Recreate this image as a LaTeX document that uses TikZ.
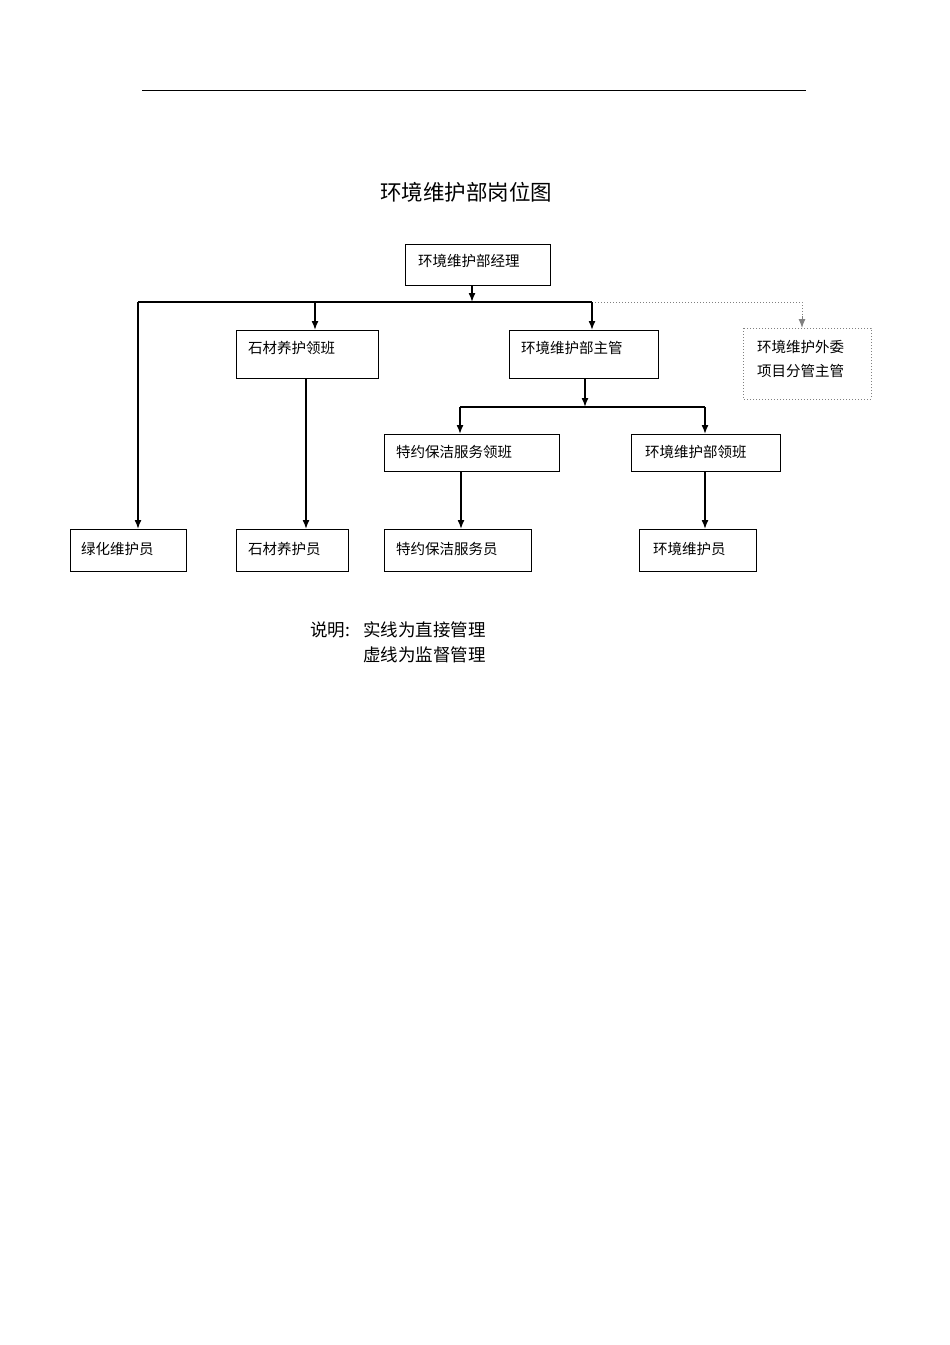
\documentclass[tikz,border=0pt]{standalone}
\usepackage{fontspec}
\setmainfont{Noto Sans CJK SC}
\usetikzlibrary{arrows.meta}
\begin{document}
\begin{tikzpicture}[x=1pt,y=-1pt,
  box/.style={draw,line width=1pt},
  lbl/.style={anchor=west,font=\fontsize{14.5}{17}\selectfont,inner sep=0},
  arr/.style={line width=1.5pt,-{Latex[length=9pt,width=7pt]}},
  ln/.style={line width=1.5pt}]
\useasboundingbox (0,0) rectangle (950,1345);
\draw[line width=0.8pt] (142,90) -- (806,90);
\node[font=\fontsize{21.5}{24}\selectfont] (title) at (466,192) {环境维护部岗位图};
% boxes
\draw[box] (405,244) rectangle (550,285); \node[lbl] (m) at (418,261) {环境维护部经理};
\draw[box] (236,330) rectangle (378,378); \node[lbl] (s1) at (248,348) {石材养护领班};
\draw[box] (509,330) rectangle (658,378); \node[lbl] (z) at (521,348) {环境维护部主管};
\draw[box,dotted,gray] (743,328) rectangle (871,399);
\node[lbl,align=left,font=\fontsize{14.5}{24}\selectfont] (w) at (757,359) {环境维护外委\\项目分管主管};
\draw[box] (384,434) rectangle (559,471); \node[lbl] (t1) at (396,452) {特约保洁服务领班};
\draw[box] (631,434) rectangle (780,471); \node[lbl] (h1) at (645,452) {环境维护部领班};
\draw[box] (70,529) rectangle (186,571); \node[lbl] (g) at (81,549) {绿化维护员};
\draw[box] (236,529) rectangle (348,571); \node[lbl] (s2) at (248,549) {石材养护员};
\draw[box] (384,529) rectangle (531,571); \node[lbl] (t2) at (396,549) {特约保洁服务员};
\draw[box] (639,529) rectangle (756,571); \node[lbl] (h2) at (653,549) {环境维护员};
% connectors
\coordinate (b1) at (472,302);
\draw[arr] (472,285) -- (b1);
\draw[ln] (138,302) -- (592,302);
\draw[line width=1pt,dotted,gray] (592,302) -- (802,302) -- (802,320);
\draw[arr,gray,line width=1pt] (802,316) -- (802,328);
\draw[arr] (138,302) -- (138,529);
\draw[arr] (315,302) -- (315,330);
\draw[arr] (592,302) -- (592,330);
\draw[arr] (306,378) -- (306,529);
\draw[arr] (585,378) -- (585,407);
\draw[ln] (460,407) -- (705,407);
\draw[arr] (460,407) -- (460,434);
\draw[arr] (705,407) -- (705,434);
\draw[arr] (461,471) -- (461,529);
\draw[arr] (705,471) -- (705,529);
% notes
\node[lbl,font=\fontsize{17.5}{20}\selectfont] (n0) at (310,630) {说明:};
\node[lbl,font=\fontsize{17.5}{20}\selectfont] (n1) at (363,630) {实线为直接管理};
\node[lbl,font=\fontsize{17.5}{20}\selectfont] (n2) at (363,655) {虚线为监督管理};
\end{tikzpicture}
\end{document}
